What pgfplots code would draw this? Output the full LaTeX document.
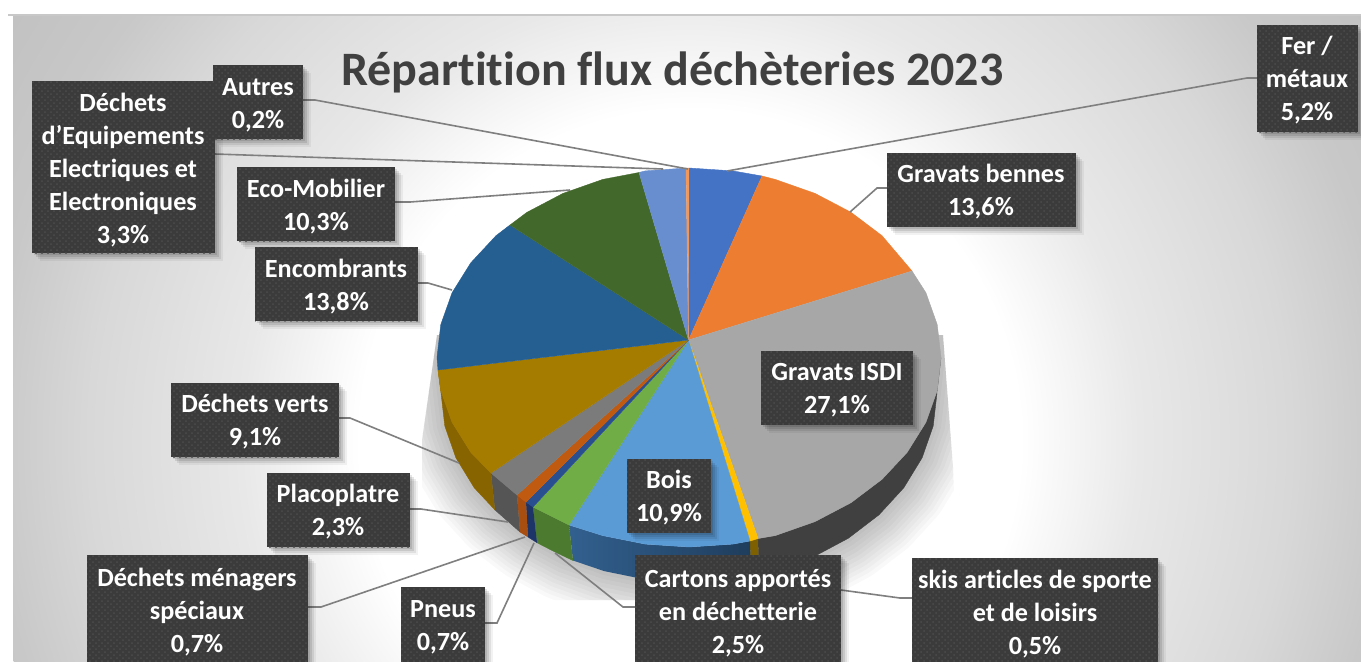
\documentclass[border=0pt]{standalone}
\usepackage{fontspec}
\setmainfont{Carlito}[Ligatures=NoCommon]
\usepackage{pgfplots}
\pgfplotsset{compat=1.18}
\usepackage{pgfplotstable}
\usetikzlibrary{patterns}

\definecolor{bgA}{HTML}{E8E8E8}
\definecolor{bgB}{HTML}{D8D8D8}
\definecolor{bgC}{HTML}{C8C8C8}
\definecolor{bgD}{HTML}{C0C0C0}
\definecolor{boxc}{HTML}{3B3B3B}
\definecolor{dotc}{HTML}{4C4C4C}
\definecolor{leader}{HTML}{7F7F7F}
\definecolor{titlec}{HTML}{404040}
% slices, top face
\definecolor{fer}{HTML}{4472C4}
\definecolor{benne}{HTML}{ED7D31}
\definecolor{isdi}{HTML}{A7A7A7}
\definecolor{skis}{HTML}{FFC000}
\definecolor{bois}{HTML}{5B9BD5}
\definecolor{carton}{HTML}{70AD47}
\definecolor{pneu}{HTML}{2A4F90}
\definecolor{dms}{HTML}{C05A10}
\definecolor{placo}{HTML}{7B7B7B}
\definecolor{verts}{HTML}{A67C00}
\definecolor{encomb}{HTML}{255E91}
\definecolor{eco}{HTML}{43682B}
\definecolor{deee}{HTML}{698ED0}
\definecolor{autres}{HTML}{F1975A}
% slices, side
\definecolor{sisdi}{HTML}{404040}
\definecolor{sskis}{HTML}{7F6000}
\definecolor{sboisA}{HTML}{1F3D5C}
\definecolor{sboisD}{HTML}{32608F}
\definecolor{scarton}{HTML}{4C7A2F}
\definecolor{spneu}{HTML}{1C3468}
\definecolor{sdms}{HTML}{A84E10}
\definecolor{splaco}{HTML}{555555}
\definecolor{sverts}{HTML}{886400}

\pgfdeclareradialshading{bgrad}{\pgfpoint{0bp}{0bp}}{color(0bp)=(white); color(12.2bp)=(white); color(16.6bp)=(bgA); color(22.2bp)=(bgB); color(25.9bp)=(bgC); color(30.7bp)=(bgD)}

% lower rim of the pie, used for the soft shadow
\pgfplotstableread{
x y
937 320
941 357
937 393
933.2 426
922.1 457.8
903.8 487.75
879 514.8
848.4 538.2
813 557.1
773.8 571.1
732.1 579.6
689 582.5
645.9 579.6
604.2 571.1
565 557.1
529.6 538.2
499 514.8
474.2 487.75
455.9 457.8
444.8 426
441 393
437 357
441 320
}\rimtable

% x1 y1 x2 y2 cx cy text
\newcommand{\lab}[7]{%
  \fill[black,opacity=.10,xshift=1pt,yshift=-1pt] (#1,#2) rectangle (#3,#4);
  \fill[black,opacity=.10,xshift=2pt,yshift=-2pt] (#1,#2) rectangle (#3,#4);
  \fill[black,opacity=.08,xshift=3pt,yshift=-3pt] (#1,#2) rectangle (#3,#4);
  \fill[black,opacity=.05,xshift=4pt,yshift=-4pt] (#1,#2) rectangle (#3,#4);
  \fill[boxc] (#1,#2) rectangle (#3,#4);
  \fill[pattern=crosshatch dots,pattern color=dotc] (#1,#2) rectangle (#3,#4);
  \node[text=white,align=center,inner sep=0pt,yshift=-1pt,font=\bfseries\fontsize{13.1}{16.5}\selectfont] at (#5,#6) {#7};
}
\newcommand{\slice}[2]{\addplot[fill=#1,draw=#1,line width=.2pt] coordinates {(688.5,340) #2};}
\newcommand{\side}[2]{\addplot[fill=#1,draw=#1,line width=.2pt] coordinates {#2};}

\begin{document}
\begin{tikzpicture}
\begin{axis}[
  at={(0pt,0pt)}, anchor=south west,
  scale only axis, width=680.5pt, height=330.5pt,
  xmin=0, xmax=1361, ymin=0, ymax=661, y dir=reverse,
  axis lines=none, no markers
]
% background
\begin{scope}
  \clip (8,15) rectangle (1361,661);
  \shade[shading=bgrad] (13.5,-236.5) rectangle (1366.5,1116.5);
\end{scope}
\draw[color=bgC,line width=.8pt] (8,15) -- (1361,15);

% soft shadow of the pie
\begin{scope}
  \clip (437,335) -- (422,440) -- (422,600) -- (958,600) -- (953,467) -- (943,335) -- cycle;
  \pgfplotsinvokeforeach{4,8,12,16,20,24,28,32,36,40,44}{
    \addplot[draw=black,draw opacity=.022,line width=#1pt,line join=round] table[x=x,y=y] {\rimtable};
  }
\end{scope}

% side of the pie
\side{sisdi}{(941,357.5) (937.2,390.5) (925.9,422.3) (907.2,452.3) (882,479.3) (851,502.7) (815,521.6) (775.2,535.6) (758,538.5) (759,575) (773.8,571.1) (813,557.1) (848.4,538.2) (879,514.8) (903.8,487.75) (922.1,457.8) (933.2,426) (937,393)}
\side{sskis}{(758,538.5) (750,541) (751,577) (759,575)}
\addplot[left color=sboisD,right color=sboisA,draw=none] coordinates {(750,541) (732.8,544.1) (689,547) (645.2,544.1) (602.8,535.6) (569,525) (573,560.5) (604.2,571.1) (645.9,579.6) (689,582.5) (732.1,579.6) (751,577)};
\side{scarton}{(569,525) (551,516) (533,507) (537,542.7) (555,552) (573,560.5)}
\side{spneu}{(533,507) (526,502) (528,537) (537,542.7)}
\side{sdms}{(526,502) (517,495) (520,532) (528,537)}
\side{splaco}{(517,495) (491,473) (495,510) (520,532)}
\side{sverts}{(491,473) (470.8,452.3) (452.1,422.3) (440.8,390.5) (438,370) (441,393) (444.8,426) (455.9,457.8) (474.2,487.75) (495,510)}

% top face
\slice{fer}{(689,168) (732.8,170.9) (762,176)}
\slice{benne}{(762,176) (775.2,179.4) (815,193.4) (851,212.3) (882,235.7) (912,271)}
\slice{isdi}{(912,271) (925.9,292.7) (937.2,324.5) (941,357.5) (937.2,390.5) (925.9,422.3) (907.2,452.3) (882,479.3) (851,502.7) (815,521.6) (775.2,535.6) (758,538.5)}
\slice{skis}{(758,538.5) (750,541)}
\slice{bois}{(750,541) (732.8,544.1) (689,547) (645.2,544.1) (602.8,535.6) (569,525)}
\slice{carton}{(569,525) (551,516) (533,507)}
\slice{pneu}{(533,507) (526,502)}
\slice{dms}{(526,502) (517,495)}
\slice{placo}{(517,495) (491,473)}
\slice{verts}{(491,473) (470.8,452.3) (452.1,422.3) (440.8,390.5) (438,370)}
\slice{encomb}{(438,370) (437,357.5) (440.8,324.5) (452.1,292.7) (470.8,262.8) (496,235.7) (510,225)}
\slice{eco}{(510,225) (527,212.3) (563,193.4) (602.8,179.4) (639,172.5)}
\slice{deee}{(639,172.5) (645.2,170.9) (686,168)}
\slice{autres}{(686,168) (689,168)}

% leader lines
\draw[leader,line width=.8pt] (303,100) -- (315,100) -- (688,169);
\draw[leader,line width=.8pt] (215,154) -- (663,169);
\draw[leader,line width=.8pt] (395,202) -- (410,202) -- (570,190);
\draw[leader,line width=.8pt] (418,283) -- (428,283) -- (452,290);
\draw[leader,line width=.8pt] (339,418) -- (350,418) -- (459,463);
\draw[leader,line width=.8pt] (410,509) -- (421,509) -- (508,522);
\draw[leader,line width=.8pt] (308,607) -- (321,607) -- (525,537);
\draw[leader,line width=.8pt] (485,623) -- (497,623) -- (534,543);
\draw[leader,line width=.8pt] (635,607) -- (623,607) -- (555,553);
\draw[leader,line width=.8pt] (841,590) -- (900,598) -- (912,598);
\draw[leader,line width=.8pt] (887,188) -- (877,188) -- (850,212);
\draw[leader,line width=.8pt] (1257,78) -- (1247,78) -- (727,171);

% labels
\lab{32}{81}{215}{253}{123}{168}{Déchets\\d’Equipements\\Electriques et\\Electroniques\\3,3\%}
\lab{213}{65}{303}{139}{258}{103}{Autres\\0,2\%}
\lab{237}{167}{395}{241}{316}{205}{Eco-Mobilier\\10,3\%}
\lab{255}{247}{418}{321}{336}{285}{Encombrants\\13,8\%}
\lab{171}{383}{339}{457}{255}{420}{Déchets verts\\9,1\%}
\lab{267}{473}{410}{547}{338}{510}{Placoplatre\\2,3\%}
\lab{87}{555}{308}{670}{197}{610}{Déchets ménagers\\spéciaux\\0,7\%}
\lab{401}{587}{485}{670}{443}{625}{Pneus\\0,7\%}
\lab{635}{555}{841}{670}{738}{611}{Cartons apportés\\en déchetterie\\2,5\%}
\lab{912}{558}{1158}{670}{1035}{612}{skis articles de sporte\\et de loisirs\\0,5\%}
\lab{627}{459}{711}{533}{669}{496}{Bois\\10,9\%}
\lab{761}{351}{913}{425}{837}{388}{Gravats ISDI\\27,1\%}
\lab{887}{153}{1076}{227}{981}{190}{Gravats bennes\\13,6\%}
\lab{1257}{25}{1358}{132}{1307}{78}{Fer /\\métaux\\5,2\%}

% title
\node[text=titlec,inner sep=0pt,font=\bfseries\fontsize{24}{28}\selectfont] at (672.5,72) {Répartition flux déchèteries 2023};
\end{axis}
\pgfresetboundingbox
\useasboundingbox (0pt,0pt) rectangle (680.5pt,330.5pt);
\end{tikzpicture}
\end{document}
